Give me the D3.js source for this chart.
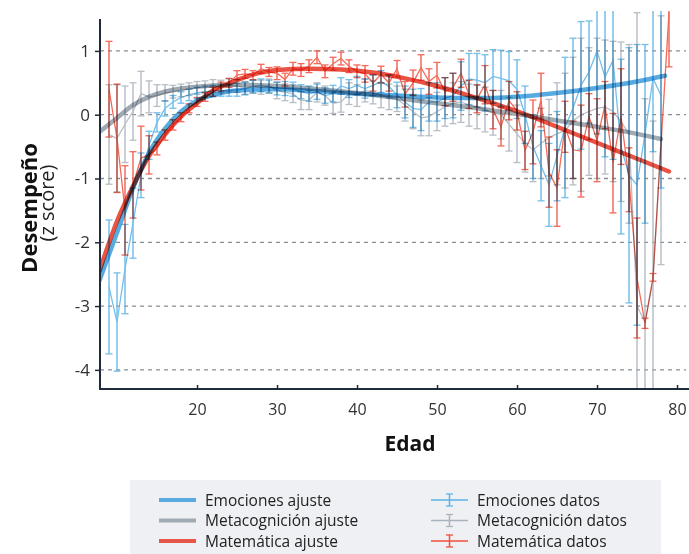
<!DOCTYPE html>
<html>
<head>
<meta charset="utf-8">
<script src="https://cdn.jsdelivr.net/npm/d3@7"></script>
<style>
  body { margin: 0; background: #fff; }
  svg { font-family: "Open Sans", sans-serif; }
  .blend { mix-blend-mode: multiply; }
</style>
</head>
<body>
<div id="chart"></div>
<script>
// ---- datos ----
const emoEdades = [9,10,11,12,13,14,15,16,17,18,19,20,21,22,23,24,25,26,27,28,29,30,31,32,33,34,35,36,37,38,39,40,41,42,43,44,45,46,47,48,49,50,51,52,53,54,55,56,57,58,59,60,61,62,63,64,65,66,67,68,69,70,71,72,73,74,75,76,77,78];
const emoDatos = [-2.7,-3.25,-2.42,-1.7,-0.95,-0.48,-0.12,0.1,0.2,0.27,0.31,0.34,0.36,0.37,0.38,0.38,0.39,
  0.41,0.44,0.46,0.44,0.41,0.41,0.4,0.36,0.33,0.36,0.3,0.33,0.45,0.41,0.46,0.41,0.46,0.52,0.44,
  0.31,0.2,0.1,0.08,0.2,0.2,0.26,0.3,0.45,0.56,0.54,0.5,0.6,0.57,0.53,0.4,0.0,-0.5,-0.8,-1.1,
  -0.65,-0.2,0.1,0.46,0.67,1.0,0.59,0.85,-0.5,-0.95,-1.1,-0.3,0.57,0.3];
const emoError = [1.05,0.77,0.7,0.55,0.35,0.22,0.15,0.12,0.1,0.09,0.09,0.09,0.09,0.09,0.09,0.09,0.1,
  0.1,0.1,0.1,0.1,0.1,0.11,0.11,0.11,0.12,0.12,0.12,0.13,0.13,0.14,0.14,0.15,0.16,0.17,0.18,
  0.2,0.25,0.3,0.33,0.3,0.3,0.32,0.35,0.38,0.4,0.42,0.44,0.42,0.44,0.46,0.46,0.45,0.5,0.55,0.65,
  0.7,1.1,1.1,1.0,0.8,1.3,1.25,1.55,1.37,2.0,2.2,1.4,1.15,1.45];

const metaEdades = emoEdades;
const metaDatos = [-0.31,-0.37,-0.15,0.05,0.33,0.28,0.3,0.34,0.36,0.38,0.4,0.42,0.43,0.45,0.44,0.46,0.45,
  0.42,0.44,0.43,0.45,0.38,0.35,0.33,0.22,0.23,0.35,0.3,0.18,0.2,0.33,0.3,0.38,0.35,0.3,0.28,
  0.25,0.15,0.05,-0.05,-0.03,0.05,0.12,0.18,0.2,0.15,0.12,0.08,0.03,0.0,-0.15,-0.3,-0.45,-0.55,-0.45,-0.36,
  -0.3,-0.25,-0.1,0.0,0.05,0.1,0.12,0.05,-0.11,-0.3,-3.0,-3.25,-2.6,-0.4];
const metaError = [0.78,0.84,0.6,0.45,0.35,0.25,0.17,0.13,0.1,0.1,0.1,0.1,0.1,0.1,0.1,0.1,0.1,
  0.1,0.1,0.11,0.11,0.13,0.13,0.14,0.14,0.15,0.15,0.15,0.16,0.16,0.17,0.17,0.18,0.18,0.19,0.2,
  0.2,0.25,0.27,0.28,0.3,0.3,0.3,0.32,0.32,0.33,0.34,0.35,0.35,0.38,0.42,0.45,0.45,0.5,0.55,0.6,
  0.8,0.9,1.0,1.2,1.0,1.1,1.05,1.1,1.25,1.4,4.6,3.5,2.5,1.95];

const mateEdades = [9,10,11,12,13,14,15,16,17,18,19,20,21,22,23,24,25,26,27,28,29,30,31,32,33,34,35,36,37,38,39,40,41,42,43,44,45,46,47,48,49,50,51,52,53,54,55,56,57,58,59,60,61,62,63,64,65,66,67,68,69,70,71,72,73,74,75,76,77,79];
const mateDatos = [0.4,-0.37,-1.5,-1.1,-0.68,-0.63,-0.53,-0.32,-0.16,-0.04,0.1,0.2,0.28,0.36,0.44,0.5,
  0.62,0.64,0.62,0.72,0.67,0.65,0.55,0.72,0.7,0.76,0.9,0.68,0.8,0.88,0.76,0.68,0.64,0.5,0.63,0.5,
  0.72,0.32,0.5,0.74,0.52,0.62,0.36,0.43,0.65,0.32,0.25,0.47,0.08,-0.19,0.22,0.06,-0.56,-0.27,0.23,-0.9,
  -1.15,-0.19,-0.55,-0.57,-0.03,-0.4,0.15,-0.76,-0.03,-1.02,-2.56,-3.27,-2.55,1.6];
const mateError = [0.75,0.85,0.7,0.52,0.5,0.3,0.1,0.08,0.08,0.07,0.07,0.07,0.07,0.07,0.07,0.07,
  0.07,0.07,0.07,0.07,0.07,0.1,0.1,0.1,0.1,0.1,0.1,0.1,0.1,0.1,0.1,0.1,0.13,0.13,0.13,0.13,
  0.13,0.2,0.2,0.2,0.2,0.2,0.22,0.22,0.22,0.22,0.22,0.3,0.3,0.3,0.3,0.3,0.3,0.5,0.42,0.55,
  0.6,0.4,0.45,0.72,0.36,0.65,0.37,0.78,0.75,0.5,0.94,0.08,0.06,0.85];

// curvas de ajuste
const emoAjusteEdades = [7.8,10,12,14,16,18,20,22,25,30,35,40,45,50,55,60,65,70,75,78.5];
const emoAjuste = [-2.6,-1.85,-1.15,-0.6,-0.22,0.05,0.22,0.31,0.38,0.4,0.37,0.33,0.3,0.27,0.26,0.28,0.34,0.42,0.52,0.61];
const metaAjusteEdades = [7.8,10,12,14,16,18,20,25,30,35,40,45,50,55,60,65,70,75,78];
const metaAjuste = [-0.27,-0.05,0.15,0.28,0.36,0.41,0.44,0.47,0.45,0.4,0.34,0.26,0.18,0.1,0.01,-0.09,-0.19,-0.3,-0.38];
const mateAjusteEdades = [7.8,10,12,14,16,18,20,22,24,26,28,30,34,38,42,46,50,54,58,62,66,70,74,79];
const mateAjuste = [-2.45,-1.67,-1.12,-0.65,-0.31,-0.03,0.18,0.38,0.49,0.59,0.66,0.7,0.72,0.71,0.66,0.57,0.45,0.3,0.14,-0.04,-0.24,-0.44,-0.64,-0.89];

const xTicks = [20,30,40,50,60,70,80];
const yTicks = [-4,-3,-2,-1,0,1];

const series = [
  {nombre: "Emociones", edades: emoEdades, datos: emoDatos, error: emoError,
   ajE: emoAjusteEdades, aj: emoAjuste, cDatos: "#5cb3e6", cAjuste: "#3f9fdc"},
  {nombre: "Metacognición", edades: metaEdades, datos: metaDatos, error: metaError,
   ajE: metaAjusteEdades, aj: metaAjuste, cDatos: "#aab3bc", cAjuste: "#939ea8"},
  {nombre: "Matemática", edades: mateEdades, datos: mateDatos, error: mateError,
   ajE: mateAjusteEdades, aj: mateAjuste, cDatos: "#f0503d", cAjuste: "#e63b2a"}
];

// ---- dibujo ----
const width = 689, height = 554;
const mLeft = 100, mRight = 687, mTop = 11, mBottom = 389;

const svg = d3.select("#chart").append("svg")
  .attr("width", width).attr("height", height);

const x = d3.scaleLinear().domain([7.875, 81.25]).range([mLeft, mRight]);
const y = d3.scaleLinear().domain([-4.3, 1.4375]).range([mBottom, 23]);

svg.append("defs").append("clipPath").attr("id", "clip")
  .append("rect").attr("x", mLeft).attr("y", mTop).attr("width", mRight - mLeft).attr("height", mBottom - mTop);

// líneas de cuadrícula
svg.append("g").selectAll("line").data(yTicks).join("line")
  .attr("x1", mLeft).attr("x2", 686)
  .attr("y1", d => y(d)).attr("y2", d => y(d))
  .attr("stroke", "#8a8f96").attr("stroke-width", 1.3).attr("stroke-dasharray", "4,4");

const plot = svg.append("g").attr("clip-path", "url(#clip)");

// datos: líneas finas y barras de error
series.forEach(function (s) {
  const pts = s.edades.map((e, i) => ({e: e, v: s.datos[i], err: s.error[i]}));
  const g = plot.append("g").attr("class", "blend").attr("opacity", 0.85);
  g.append("path").datum(pts)
    .attr("fill", "none").attr("stroke", s.cDatos).attr("stroke-width", 1.3)
    .attr("d", d3.line().x(d => x(d.e)).y(d => y(d.v)));
  const bars = g.selectAll(".bar").data(pts).join("g");
  bars.append("line")
    .attr("x1", d => x(d.e)).attr("x2", d => x(d.e))
    .attr("y1", d => y(d.v + d.err)).attr("y2", d => y(d.v - d.err))
    .attr("stroke", s.cDatos).attr("stroke-width", 1.5);
  [1, -1].forEach(function (sg) {
    bars.append("line")
      .attr("x1", d => x(d.e) - 3.5).attr("x2", d => x(d.e) + 3.5)
      .attr("y1", d => y(d.v + sg * d.err)).attr("y2", d => y(d.v + sg * d.err))
      .attr("stroke", s.cDatos).attr("stroke-width", 1.3);
  });
});

// curvas de ajuste
series.forEach(function (s) {
  const pts = s.ajE.map((e, i) => ({e: e, v: s.aj[i]}));
  plot.append("path").datum(pts)
    .attr("class", "blend").attr("opacity", 0.88)
    .attr("fill", "none").attr("stroke", s.cAjuste).attr("stroke-width", 4.5)
    .attr("stroke-linecap", "round")
    .attr("d", d3.line().curve(d3.curveMonotoneX).x(d => x(d.e)).y(d => y(d.v)));
});

// ejes
const axisColor = "#1f2b3a";
const yAxis = svg.append("g").attr("transform", `translate(${mLeft},0)`)
  .call(d3.axisLeft(y).tickValues(yTicks).tickFormat(d => String(d)).tickSize(5).tickPadding(5));
yAxis.select(".domain").remove();
const xAxis = svg.append("g").attr("transform", `translate(0,${mBottom})`)
  .call(d3.axisBottom(x).tickValues(xTicks).tickSize(-4).tickPadding(15));
xAxis.select(".domain").remove();
[yAxis, xAxis].forEach(function (a) {
  a.selectAll(".tick line").attr("stroke", axisColor).attr("stroke-width", 1.5);
  a.selectAll(".tick text").attr("fill", "#333").attr("font-size", 17)
    .attr("font-family", "Open Sans, sans-serif");
});
xAxis.selectAll(".tick text").attr("font-size", 16);
svg.append("line").attr("x1", mLeft).attr("x2", mLeft).attr("y1", 19).attr("y2", mBottom + 1)
  .attr("stroke", axisColor).attr("stroke-width", 2);
svg.append("line").attr("x1", mLeft - 1).attr("x2", width).attr("y1", mBottom).attr("y2", mBottom)
  .attr("stroke", axisColor).attr("stroke-width", 2);

// títulos
svg.append("text").attr("x", 410).attr("y", 451).attr("text-anchor", "middle")
  .attr("font-size", 21).attr("font-weight", 700).attr("fill", "#111").text("Edad");
svg.append("text").attr("transform", "translate(37,208) rotate(-90)").attr("text-anchor", "middle")
  .attr("font-size", 22).attr("font-weight", 700).attr("fill", "#111").text("Desempeño");
svg.append("text").attr("transform", "translate(54,203) rotate(-90)").attr("text-anchor", "middle")
  .attr("font-size", 20).attr("fill", "#222").text("(z score)");

// leyenda
const leg = svg.append("g");
leg.append("rect").attr("x", 130).attr("y", 480).attr("width", 531).attr("height", 80).attr("fill", "#eff0f3");
series.forEach(function (s, i) {
  const yy = 500 + i * 20.5;
  leg.append("line").attr("x1", 159).attr("x2", 196).attr("y1", yy).attr("y2", yy)
    .attr("stroke", s.cAjuste).attr("stroke-width", 4).attr("opacity", 0.85);
  leg.append("text").attr("x", 205).attr("y", yy + 5.5).attr("font-size", 15.5).attr("fill", "#222")
    .text(s.nombre + " ajuste");
  leg.append("line").attr("x1", 431).attr("x2", 468).attr("y1", yy).attr("y2", yy)
    .attr("stroke", s.cDatos).attr("stroke-width", 1.3);
  leg.append("line").attr("x1", 449.5).attr("x2", 449.5).attr("y1", yy - 6).attr("y2", yy + 6)
    .attr("stroke", s.cDatos).attr("stroke-width", 1.5);
  [-6, 6].forEach(function (o) {
    leg.append("line").attr("x1", 446).attr("x2", 453).attr("y1", yy + o).attr("y2", yy + o)
      .attr("stroke", s.cDatos).attr("stroke-width", 1.3);
  });
  leg.append("text").attr("x", 477).attr("y", yy + 5.5).attr("font-size", 15.5).attr("fill", "#222")
    .text(s.nombre + " datos");
});
</script>
</body>
</html>
